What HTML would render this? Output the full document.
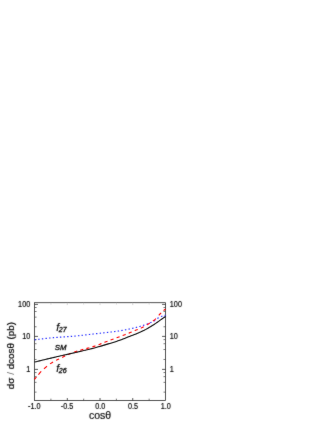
<!DOCTYPE html>
<html><head><meta charset="utf-8"><title>dσ/dcosθ</title><style>
html,body{margin:0;padding:0;background:#fff;}
svg{display:block;font-family:"Liberation Sans",sans-serif;}
</style></head><body>
<svg width="327" height="423" viewBox="0 0 327 423">
<defs>
<filter id="b" x="0" y="0" width="327" height="423" filterUnits="userSpaceOnUse"><feConvolveMatrix order="3" kernelMatrix="0.02 0.07 0.02 0.07 0.64 0.07 0.02 0.07 0.02" edgeMode="none"/></filter>
<filter id="b2" x="0" y="0" width="327" height="423" filterUnits="userSpaceOnUse"><feConvolveMatrix order="3" kernelMatrix="0.01 0.04 0.01 0.04 0.8 0.04 0.01 0.04 0.01" edgeMode="none"/></filter>
</defs>
<rect width="327" height="423" fill="#fff"/>
<g filter="url(#b2)">
<rect x="34.55" y="302.70" width="130.95" height="97.75" fill="none" stroke="#2a2a2a" stroke-width="0.78"/>
<g stroke="#222" stroke-width="0.75"><line x1="34.55" y1="369.40" x2="37.95" y2="369.40"/><line x1="165.50" y1="369.40" x2="162.10" y2="369.40"/><line x1="34.55" y1="336.40" x2="37.95" y2="336.40"/><line x1="165.50" y1="336.40" x2="162.10" y2="336.40"/><line x1="34.55" y1="304.40" x2="37.95" y2="304.40"/><line x1="165.50" y1="304.40" x2="162.10" y2="304.40"/><line x1="67.29" y1="400.45" x2="67.29" y2="398.05"/><line x1="100.02" y1="400.45" x2="100.02" y2="398.05"/><line x1="132.76" y1="400.45" x2="132.76" y2="398.05"/></g>
<g stroke="#444" stroke-width="0.7"><line x1="34.55" y1="392.12" x2="36.55" y2="392.12"/><line x1="165.50" y1="392.12" x2="163.50" y2="392.12"/><line x1="34.55" y1="382.33" x2="36.55" y2="382.33"/><line x1="165.50" y1="382.33" x2="163.50" y2="382.33"/><line x1="34.55" y1="376.61" x2="36.55" y2="376.61"/><line x1="165.50" y1="376.61" x2="163.50" y2="376.61"/><line x1="34.55" y1="372.55" x2="36.55" y2="372.55"/><line x1="165.50" y1="372.55" x2="163.50" y2="372.55"/><line x1="34.55" y1="359.47" x2="36.55" y2="359.47"/><line x1="165.50" y1="359.47" x2="163.50" y2="359.47"/><line x1="34.55" y1="349.53" x2="36.55" y2="349.53"/><line x1="165.50" y1="349.53" x2="163.50" y2="349.53"/><line x1="34.55" y1="343.72" x2="36.55" y2="343.72"/><line x1="165.50" y1="343.72" x2="163.50" y2="343.72"/><line x1="34.55" y1="339.60" x2="36.55" y2="339.60"/><line x1="165.50" y1="339.60" x2="163.50" y2="339.60"/><line x1="34.55" y1="326.77" x2="36.55" y2="326.77"/><line x1="165.50" y1="326.77" x2="163.50" y2="326.77"/><line x1="34.55" y1="317.13" x2="36.55" y2="317.13"/><line x1="165.50" y1="317.13" x2="163.50" y2="317.13"/><line x1="34.55" y1="311.50" x2="36.55" y2="311.50"/><line x1="165.50" y1="311.50" x2="163.50" y2="311.50"/><line x1="34.55" y1="307.50" x2="36.55" y2="307.50"/><line x1="165.50" y1="307.50" x2="163.50" y2="307.50"/><line x1="50.92" y1="400.45" x2="50.92" y2="398.65"/><line x1="83.66" y1="400.45" x2="83.66" y2="398.65"/><line x1="116.39" y1="400.45" x2="116.39" y2="398.65"/><line x1="149.13" y1="400.45" x2="149.13" y2="398.65"/></g>
<g stroke="#aaa" stroke-width="0.5"><line x1="50.92" y1="302.70" x2="50.92" y2="304.50"/><line x1="67.29" y1="302.70" x2="67.29" y2="305.10"/><line x1="83.66" y1="302.70" x2="83.66" y2="304.50"/><line x1="100.02" y1="302.70" x2="100.02" y2="305.10"/><line x1="116.39" y1="302.70" x2="116.39" y2="304.50"/><line x1="132.76" y1="302.70" x2="132.76" y2="305.10"/><line x1="149.13" y1="302.70" x2="149.13" y2="304.50"/></g>
</g>
<g filter="url(#b2)">
<path d="M34.65 339.89 L35.00 339.84 L35.35 339.79 L35.70 339.74 L36.05 339.69M38.26 339.38 L38.61 339.33 L38.96 339.28 L39.31 339.24 L39.66 339.19M41.87 338.90 L42.22 338.86 L42.57 338.81 L42.92 338.77 L43.27 338.72M45.48 338.46 L45.83 338.42 L46.18 338.38 L46.53 338.34 L46.88 338.30M49.09 338.07 L49.44 338.04 L49.79 338.00 L50.14 337.97 L50.49 337.93M52.70 337.74 L53.05 337.71 L53.40 337.68 L53.75 337.65 L54.10 337.62M56.31 337.45 L56.66 337.42 L57.01 337.40 L57.36 337.37 L57.71 337.35M59.92 337.19 L60.27 337.17 L60.62 337.14 L60.97 337.12 L61.32 337.09M63.53 336.94 L63.88 336.92 L64.23 336.90 L64.58 336.87 L64.93 336.85M67.14 336.70 L67.49 336.67 L67.84 336.65 L68.19 336.62 L68.54 336.59M70.75 336.43 L71.10 336.40 L71.45 336.37 L71.80 336.34 L72.15 336.31M74.36 336.12 L74.71 336.09 L75.06 336.06 L75.41 336.02 L75.76 335.99M77.97 335.77 L78.32 335.73 L78.67 335.70 L79.02 335.66 L79.37 335.62M81.58 335.38 L81.93 335.34 L82.28 335.30 L82.63 335.26 L82.98 335.22M85.19 334.96 L85.54 334.92 L85.89 334.88 L86.24 334.84 L86.59 334.80M88.80 334.53 L89.15 334.49 L89.50 334.45 L89.85 334.41 L90.20 334.37M92.41 334.10 L92.76 334.06 L93.11 334.02 L93.46 333.98 L93.81 333.94M96.02 333.68 L96.37 333.64 L96.72 333.60 L97.07 333.57 L97.42 333.53M99.63 333.28 L99.98 333.25 L100.33 333.21 L100.68 333.17 L101.03 333.13M103.24 332.89 L103.59 332.85 L103.94 332.82 L104.29 332.78 L104.64 332.74M106.85 332.50 L107.20 332.46 L107.55 332.42 L107.90 332.38 L108.25 332.34M110.46 332.08 L110.81 332.04 L111.16 332.00 L111.51 331.95 L111.86 331.91M114.07 331.63 L114.42 331.58 L114.77 331.54 L115.12 331.49 L115.47 331.44M117.68 331.13 L118.03 331.08 L118.38 331.03 L118.73 330.98 L119.08 330.92M121.29 330.56 L121.64 330.50 L121.99 330.44 L122.34 330.38 L122.69 330.32M124.90 329.91 L125.25 329.84 L125.60 329.77 L125.95 329.71 L126.30 329.64M128.51 329.19 L128.86 329.11 L129.21 329.04 L129.56 328.97 L129.91 328.89M132.12 328.40 L132.47 328.33 L132.82 328.24 L133.17 328.16 L133.52 328.08M135.73 327.54 L136.08 327.45 L136.43 327.36 L136.78 327.27 L137.13 327.18M139.34 326.56 L139.69 326.46 L140.04 326.36 L140.39 326.25 L140.74 326.15M142.95 325.46 L143.30 325.34 L143.65 325.23 L144.00 325.11 L144.35 325.00M146.56 324.22 L146.91 324.10 L147.26 323.96 L147.61 323.83 L147.96 323.70M150.17 322.79 L150.52 322.64 L150.87 322.48 L151.22 322.33 L151.57 322.17M153.78 321.08 L154.13 320.90 L154.48 320.71 L154.83 320.51 L155.18 320.28M157.39 318.58 L157.74 318.32 L158.09 318.09 L158.44 317.88 L158.79 317.68M161.00 316.58 L161.35 316.44 L161.70 316.30 L162.05 316.18 L162.40 316.07M164.61 315.46 L164.83 315.42 L165.06 315.37 L165.28 315.34 L165.50 315.30" fill="none" stroke="#2830ff" stroke-width="1.15"/>
<path d="M34.55 379.30 L35.01 378.70 L35.47 378.10 L35.94 377.51 L36.40 376.94M38.40 374.58 L39.10 373.78 L39.80 372.99 L40.50 372.22 L41.20 371.48M44.00 368.80 L44.75 368.12 L45.50 367.47 L46.25 366.83 L47.00 366.21M50.05 363.90 L50.80 363.39 L51.55 362.91 L52.30 362.44 L53.05 362.00M56.10 360.35 L56.85 359.98 L57.60 359.61 L58.35 359.24 L59.10 358.89M62.15 357.43 L62.90 357.06 L63.65 356.69 L64.40 356.32 L65.15 355.95M68.20 354.49 L68.95 354.15 L69.70 353.81 L70.45 353.49 L71.20 353.17M74.25 352.03 L75.00 351.78 L75.75 351.53 L76.50 351.29 L77.25 351.06M80.30 350.17 L81.05 349.96 L81.80 349.75 L82.55 349.55 L83.30 349.35M86.35 348.54 L87.10 348.34 L87.85 348.14 L88.60 347.93 L89.35 347.72M92.40 346.83 L93.15 346.60 L93.90 346.36 L94.65 346.12 L95.40 345.86M98.45 344.75 L99.20 344.47 L99.95 344.17 L100.70 343.88 L101.45 343.58M104.50 342.37 L105.25 342.08 L106.00 341.79 L106.75 341.51 L107.50 341.22M110.55 340.07 L111.30 339.79 L112.05 339.51 L112.80 339.22 L113.55 338.94M116.60 337.79 L117.35 337.51 L118.10 337.22 L118.85 336.94 L119.60 336.66M122.65 335.51 L123.40 335.23 L124.15 334.94 L124.90 334.66 L125.65 334.37M128.70 333.18 L129.45 332.88 L130.20 332.58 L130.95 332.27 L131.70 331.96M134.75 330.67 L135.50 330.35 L136.25 330.04 L137.00 329.73 L137.75 329.42M140.80 328.15 L141.55 327.81 L142.30 327.45 L143.05 327.07 L143.80 326.67M146.85 324.89 L147.60 324.43 L148.35 323.97 L149.10 323.51 L149.85 323.06M152.90 321.11 L153.65 320.57 L154.40 319.98 L155.15 319.32 L155.90 318.57M158.80 315.27 L159.40 314.62 L160.00 314.00 L160.60 313.41 L161.20 312.84M163.60 310.63 L164.07 310.21 L164.55 309.80 L165.03 309.40 L165.50 309.00" fill="none" stroke="#ff0000" stroke-width="1.12"/>
<path d="M34.55 362.10 L36.19 361.69 L37.82 361.28 L39.46 360.88 L41.10 360.47 L42.73 360.07 L44.37 359.67 L46.01 359.28 L47.64 358.88 L49.28 358.50 L50.92 358.11 L52.56 357.73 L54.19 357.35 L55.83 356.97 L57.47 356.59 L59.10 356.22 L60.74 355.84 L62.38 355.47 L64.01 355.10 L65.65 354.72 L67.29 354.35 L68.92 353.97 L70.56 353.60 L72.20 353.23 L73.83 352.86 L75.47 352.49 L77.11 352.11 L78.75 351.73 L80.38 351.35 L82.02 350.97 L83.66 350.59 L85.29 350.20 L86.93 349.82 L88.57 349.43 L90.20 349.03 L91.84 348.62 L93.48 348.20 L95.11 347.77 L96.75 347.32 L98.39 346.85 L100.02 346.37 L101.66 345.87 L103.30 345.37 L104.94 344.87 L106.57 344.38 L108.21 343.89 L109.85 343.41 L111.48 342.92 L113.12 342.43 L114.76 341.92 L116.39 341.40 L118.03 340.86 L119.67 340.28 L121.30 339.68 L122.94 339.05 L124.58 338.41 L126.21 337.76 L127.85 337.11 L129.49 336.47 L131.13 335.83 L132.76 335.20 L134.40 334.57 L136.04 333.93 L137.67 333.27 L139.31 332.59 L140.95 331.86 L142.58 331.08 L144.22 330.26 L145.86 329.39 L147.49 328.49 L149.13 327.54 L150.77 326.57 L152.40 325.57 L154.04 324.53 L155.68 323.40 L157.32 322.24 L158.95 321.07 L160.59 319.93 L162.23 318.79 L163.86 317.65 L165.50 316.50" fill="none" stroke="#080808" stroke-width="1.08"/>
</g>
<g filter="url(#b)" fill="#000" stroke="#000" stroke-width="0.17">
<text transform="translate(30.25 307.00) scale(0.89 1)" text-anchor="end" font-size="8.2">100</text><text transform="translate(169.80 307.00) scale(0.89 1)" text-anchor="start" font-size="8.2">100</text><text transform="translate(30.25 339.00) scale(0.89 1)" text-anchor="end" font-size="8.2">10</text><text transform="translate(169.80 339.00) scale(0.89 1)" text-anchor="start" font-size="8.2">10</text><text transform="translate(30.25 372.00) scale(0.89 1)" text-anchor="end" font-size="8.2">1</text><text transform="translate(169.80 372.00) scale(0.89 1)" text-anchor="start" font-size="8.2">1</text><text transform="translate(34.35 409.00) scale(0.89 1)" text-anchor="middle" font-size="8.2">-1.0</text><text transform="translate(67.09 409.00) scale(0.89 1)" text-anchor="middle" font-size="8.2">-0.5</text><text transform="translate(100.32 409.00) scale(0.89 1)" text-anchor="middle" font-size="8.2">0.0</text><text transform="translate(133.06 409.00) scale(0.89 1)" text-anchor="middle" font-size="8.2">0.5</text><text transform="translate(165.80 409.00) scale(0.89 1)" text-anchor="middle" font-size="8.2">1.0</text><text x="100" y="419.3" text-anchor="middle" font-size="10.5">cosθ</text><text transform="translate(13.9 355.6) rotate(-90)" text-anchor="middle" font-size="9.85" stroke-width="0.22">dσ<tspan fill="#666" stroke="none"> / </tspan>dcosθ<tspan dx="0.8"> (pb)</tspan></text><text x="56.2" y="331.2" font-size="10.6" font-style="italic" stroke-width="0.2">f<tspan font-size="7" dy="1.0" dx="-0.4" stroke-width="0.3">27</tspan></text><text x="56.2" y="371.9" font-size="10.6" font-style="italic" stroke-width="0.2">f<tspan font-size="7" dy="1.0" dx="-0.4" stroke-width="0.3">26</tspan></text><text x="54.8" y="349.9" font-size="7.8" font-style="italic" stroke-width="0.28">SM</text></g>
</svg>
</body></html>
